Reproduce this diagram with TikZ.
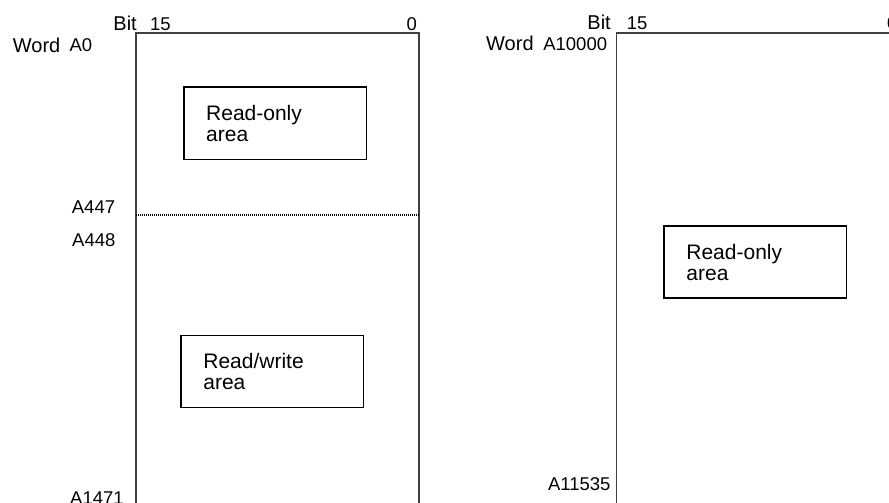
\documentclass[tikz,border=0pt]{standalone}
\usepackage{fontspec}
\setmainfont{Liberation Sans}
\usepackage{tikz}
\tikzset{
  lbl/.style={inner sep=0pt,font=\fontsize{20}{22}\selectfont},
  addr/.style={inner sep=0pt,font=\fontsize{18.5}{20}\selectfont},
  areabox/.style={draw,line width=1.6pt,inner xsep=22.5pt,inner ysep=0pt,
    text width=137.6pt,minimum height=72pt,align=left,
    font=\fontsize{21}{21}\selectfont},
  wordline/.style={line width=1.2pt,black!75},
}
\begin{document}
\begin{tikzpicture}[x=1pt,y=-1pt]
\clip (0,0) rectangle (889,503);
% left area A0 - A1471
\draw[wordline] (136,520) -- (136,33) -- (419,33) -- (419,520);
\draw[line width=1.3pt,dash pattern=on 1pt off 1pt] (136,215) -- (419,215);
\node[lbl,anchor=base east] (bitl) at (137,31) {Bit};
\node[addr,anchor=base west] (msbl) at (150,31) {15};
\node[addr,anchor=base east] (lsbl) at (417,31) {0};
\node[lbl,anchor=base west] (wordl) at (12.7,53) {Word};
\node[addr,anchor=base west] (a0) at (69.3,52) {A0};
\node[addr,anchor=base west] (a447) at (71.7,213) {A447};
\node[addr,anchor=base west] (a448) at (72,246) {A448};
\node[addr,anchor=base west] (a1471) at (70,504) {A1471};
\node[areabox] (ro) at (275,123.3) {Read-only\\area};
\node[areabox] (rw) at (272.2,371.3) {Read/write\\area};
% right area A10000 - A11535
\draw[wordline] (616.7,520) -- (616.7,33) -- (900,33) -- (900,520);
\node[lbl,anchor=base east] (bitr) at (611,30) {Bit};
\node[addr,anchor=base west] (msbr) at (626.7,30) {15};
\node[addr,anchor=base east] (lsbr) at (897.5,30) {0};
\node[lbl,anchor=base west] (wordr) at (486,51) {Word};
\node[addr,anchor=base east] (a10000) at (607.3,51) {A10000};
\node[addr,anchor=base east] (a11535) at (610.7,490.7) {A11535};
\node[areabox] (ror) at (755.2,262) {Read-only\\area};
\end{tikzpicture}
\end{document}
